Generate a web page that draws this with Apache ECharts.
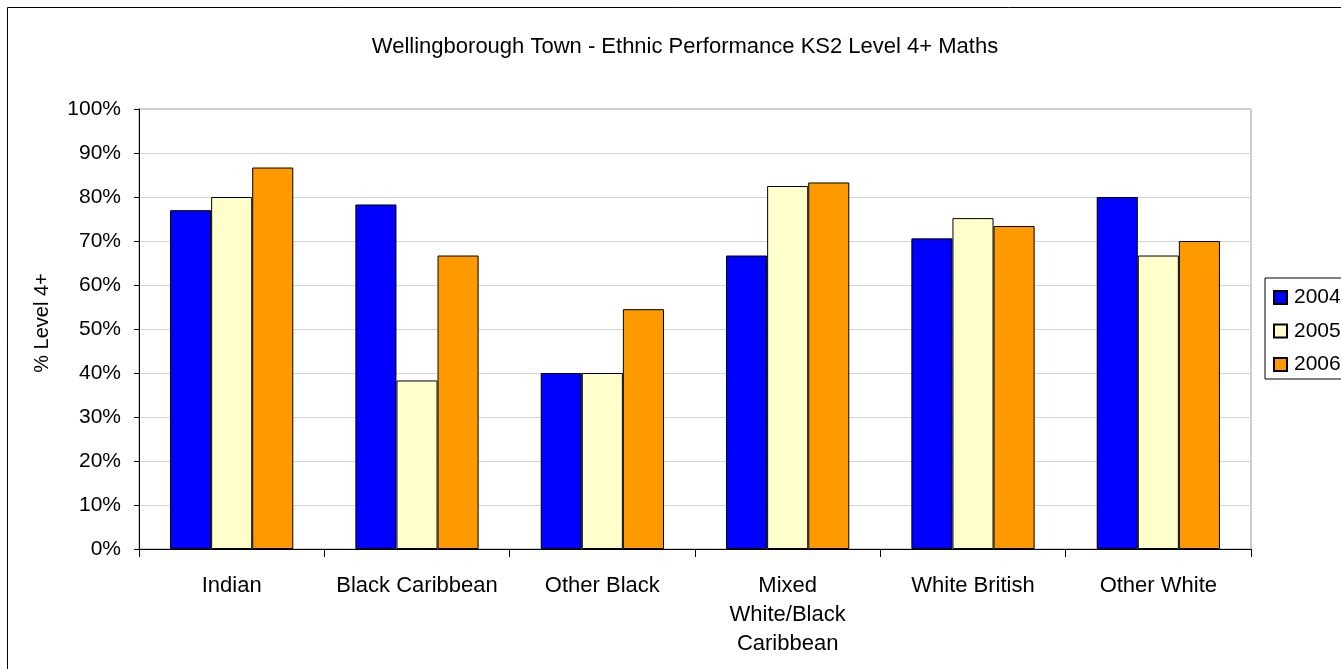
<!DOCTYPE html>
<html>
<head>
<meta charset="utf-8">
<title>Wellingborough Town - Ethnic Performance KS2 Level 4+ Maths</title>
<script src="https://cdn.jsdelivr.net/npm/echarts@6/dist/echarts.min.js"></script>
<style>
  html, body { margin: 0; padding: 0; background: #ffffff; }
  #chart { width: 1341px; height: 669px; }
</style>
</head>
<body>
<div id="chart"></div>
<script>
// Ethnic groups along the x axis
const categories = ['Indian', 'Black Caribbean', 'Other Black', 'Mixed\nWhite/Black\nCaribbean', 'White British', 'Other White'];

// Share of pupils reaching KS2 Level 4+ in maths (%)
const years = ['2004', '2005', '2006'];
const values2004 = [77.0, 78.3, 40.0, 66.7, 70.6, 80.0];
const values2005 = [80.0, 38.3, 40.0, 82.5, 75.2, 66.7];
const values2006 = [86.7, 66.7, 54.5, 83.3, 73.4, 70.0];
const seriesColors = ['#0000ff', '#ffffcc', '#ff9900'];

const FONT = "'Liberation Sans', Arial, sans-serif";

const chart = echarts.init(document.getElementById('chart'), null, { renderer: 'canvas' });

function barSeries(name, data, color) {
  return {
    name: name,
    type: 'bar',
    data: data,
    barGap: '0%',
    barCategoryGap: '33.5%',
    itemStyle: { color: color, borderColor: '#000000', borderWidth: 1 },
    emphasis: { disabled: true },
    animation: false
  };
}

chart.setOption({
  backgroundColor: '#ffffff',
  animation: false,
  graphic: [{
    type: 'rect',
    silent: true,
    shape: { x: 7.5, y: 7.5, width: 1400, height: 700 },
    style: { fill: 'none', stroke: '#000000', lineWidth: 1 }
  }],
  title: {
    text: 'Wellingborough Town - Ethnic Performance KS2 Level 4+ Maths',
    left: 680,
    textAlign: 'center',
    top: 31,
    textStyle: { fontFamily: FONT, fontSize: 22, fontWeight: 'normal', color: '#000000' }
  },
  legend: {
    orient: 'vertical',
    left: 1265,
    top: 278,
    padding: [9, 30, 4, 8],
    itemGap: 12.5,
    itemWidth: 13,
    itemHeight: 13,
    icon: 'rect',
    borderColor: '#000000',
    borderWidth: 1,
    backgroundColor: '#ffffff',
    textStyle: { fontFamily: FONT, fontSize: 21, color: '#000000', padding: [0, 0, 0, 2] },
    data: years
  },
  grid: {
    left: 139,
    right: 90,
    top: 109,
    bottom: 120,
    show: true,
    borderColor: '#9a9a9a',
    borderWidth: 1,
    containLabel: false
  },
  xAxis: {
    type: 'category',
    data: categories,
    axisLine: { lineStyle: { color: '#000000', width: 1 } },
    axisTick: { show: true, alignWithLabel: false, length: 8, lineStyle: { color: '#000000' } },
    axisLabel: {
      interval: 0,
      margin: 22,
      fontFamily: FONT,
      fontSize: 22,
      lineHeight: 29,
      color: '#000000'
    },
    splitLine: { show: false }
  },
  yAxis: {
    type: 'value',
    min: 0,
    max: 100,
    interval: 10,
    name: '% Level 4+',
    nameLocation: 'middle',
    nameGap: 87,
    nameRotate: 90,
    nameTextStyle: { fontFamily: FONT, fontSize: 20, color: '#000000', padding: [0, 0, 0, 12] },
    axisLine: { show: true, lineStyle: { color: '#000000', width: 1 } },
    axisTick: { show: true, length: 5, lineStyle: { color: '#000000' } },
    axisLabel: {
      margin: 18,
      fontFamily: FONT,
      fontSize: 21,
      color: '#000000',
      formatter: '{value}%'
    },
    splitLine: { show: true, lineStyle: { color: '#d4d4d4', width: 1 } }
  },
  series: [
    barSeries(years[0], values2004, seriesColors[0]),
    barSeries(years[1], values2005, seriesColors[1]),
    barSeries(years[2], values2006, seriesColors[2])
  ]
});
</script>
</body>
</html>
